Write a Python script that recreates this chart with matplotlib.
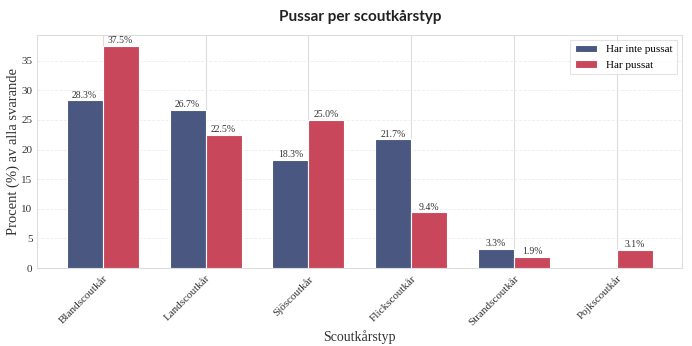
import matplotlib
matplotlib.use("Agg")
import matplotlib.pyplot as plt
import numpy as np

categories = ["Blandscoutkår", "Landscoutkår", "Sjöscoutkår", "Flickscoutkår", "Strandscoutkår", "Pojkscoutkår"]
har_inte_pussat = [28.3, 26.7, 18.3, 21.7, 3.3, 0.0]
har_pussat = [37.5, 22.5, 25.0, 9.4, 1.9, 3.1]
series_names = ["Har inte pussat", "Har pussat"]

plt.rcParams['font.family'] = ['Liberation Serif', 'DejaVu Serif']

fig, ax = plt.subplots(figsize=(6.92, 3.46), dpi=100)
x = np.arange(len(categories))
w = 0.35
b1 = ax.bar(x - w/2, har_inte_pussat, w, color="#4a5780", edgecolor="white", linewidth=0.8, label=series_names[0], zorder=3)
b2 = ax.bar(x + w/2, har_pussat, w, color="#c8475a", edgecolor="white", linewidth=0.8, label=series_names[1], zorder=3)

for bars, vals in ((b1, har_inte_pussat), (b2, har_pussat)):
    for r, v in zip(bars, vals):
        if v > 0:
            ax.text(r.get_x() + r.get_width()/2, v + 0.1, f"{v:.1f}%", ha="center", va="bottom",
                    fontsize=7, color="#333333")

ax.set_xticks(x)
ax.set_xticklabels(categories, rotation=45, ha="right", rotation_mode="anchor", fontsize=8, color="#333333")
ax.tick_params(axis="y", labelsize=8, colors="#333333", length=0)
ax.tick_params(axis="x", length=0, pad=4)
ax.set_ylabel("Procent (%) av alla svarande", fontsize=10.5, color="#333333", labelpad=1)
ax.set_xlabel("Scoutkårstyp", fontsize=10, color="#333333", labelpad=2)
ax.set_title("Pussar per scoutkårstyp", fontsize=11, fontweight="bold", family="Lato", pad=10, color="#222222")

ax.grid(axis="x", color="#dddddd", linewidth=0.8, zorder=0)
ax.grid(axis="y", color="#eeeeee", linewidth=0.6, linestyle="--", zorder=0)
for s in ax.spines.values():
    s.set_color("#dddddd")

leg = ax.legend(loc="upper right", fontsize=8, frameon=True, edgecolor="#dddddd", fancybox=False)
leg.get_frame().set_linewidth(0.8)

fig.subplots_adjust(left=0.054, right=0.986, top=0.9, bottom=0.225)
fig.savefig("out.png", dpi=100)
